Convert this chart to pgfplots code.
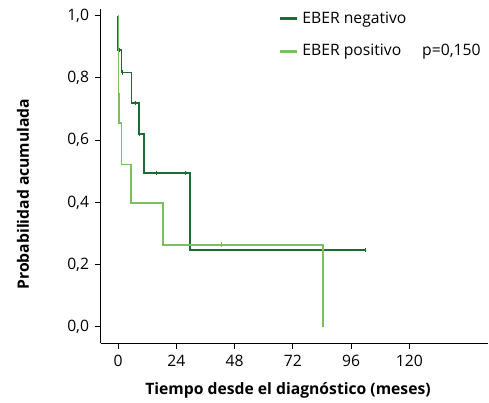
\documentclass[border=0pt]{standalone}
\usepackage{fontspec}
\setmainfont{Open Sans}
\usepackage{pgfplots}
\pgfplotsset{compat=1.18}
\definecolor{dkg}{HTML}{1B6B35}
\definecolor{ltg}{HTML}{7BBF5E}
\newcommand{\fs}{\fontsize{15.7}{18}\selectfont}
\begin{document}
\fs
\begin{tikzpicture}
\useasboundingbox (0,0) rectangle (489pt,402pt);
\begin{axis}[
  at={(100.5pt,58.7pt)}, anchor=south west,
  scale only axis, width=387.5pt, height=334.3pt,
  xmin=-7.3, xmax=152.4, ymin=-0.053, ymax=1.0215,
  axis x line*=bottom, axis y line*=left,
  axis line style={line width=1pt, -},
  xtick={0,24,48,72,96,120},
  ytick={0,0.2,0.4,0.6,0.8,1.0},
  tick align=outside, major tick length=5.5pt,
  tick style={line width=0.9pt, black},
  every tick label/.append style={font=\fs},
  xticklabel style={yshift=-1pt},
  yticklabel style={xshift=-0.5pt, /pgf/number format/.cd, fixed, fixed zerofill, precision=1, use comma},
  /pgf/number format/assume math mode=true,
  xlabel={\bfseries Tiempo desde el diagnóstico (meses)},
  ylabel={\bfseries Probabilidad acumulada},
  xlabel style={at={(rel axis cs:0.4839,-0.1517)}, anchor=base, font=\fs},
  ylabel style={at={(rel axis cs:-0.185,0.4466)}, anchor=base, font=\fs},
  legend style={at={(rel axis cs:0.458,0.998)}, anchor=north west, draw=none, fill=none,
    font=\fs, row sep=14.5pt, inner sep=0pt, cells={anchor=west}},
  legend cell align=left,
  legend image code/.code={\draw[#1, line width=2.8pt] (0pt,0pt) -- (17pt,0pt); \path (20pt,0pt);},
  clip=false,
]
\addplot[const plot, color=dkg, line width=1.7pt, mark=none] coordinates {
  (0,1) (0,0.889) (1.4,0.817) (5.5,0.720) (8.5,0.620) (10.7,0.495) (29.7,0.247) (102,0.247)
};
\addlegendentry{EBER negativo}
\addplot[const plot, color=ltg, line width=1.7pt, mark=none] coordinates {
  (0,1) (0.1,0.75) (0.4,0.655) (1.4,0.522) (5.2,0.398) (18.4,0.264) (84.5,0)
};
\addlegendentry{EBER positivo}
\addplot[only marks, mark=|, mark size=2.2pt, color=dkg, line width=1pt, forget plot] coordinates {
  (0.7,0.889) (1.8,0.817) (7.3,0.720) (8.6,0.620) (15.7,0.495) (27.6,0.495) (102,0.247)
};
\addplot[only marks, mark=|, mark size=2.2pt, color=ltg, line width=1pt, forget plot] coordinates {
  (42.6,0.264)
};
\node[anchor=base west, inner sep=0pt, font=\fs] at (rel axis cs:0.8297,0.8624) {p=0,150};
\end{axis}
\end{tikzpicture}
\end{document}
